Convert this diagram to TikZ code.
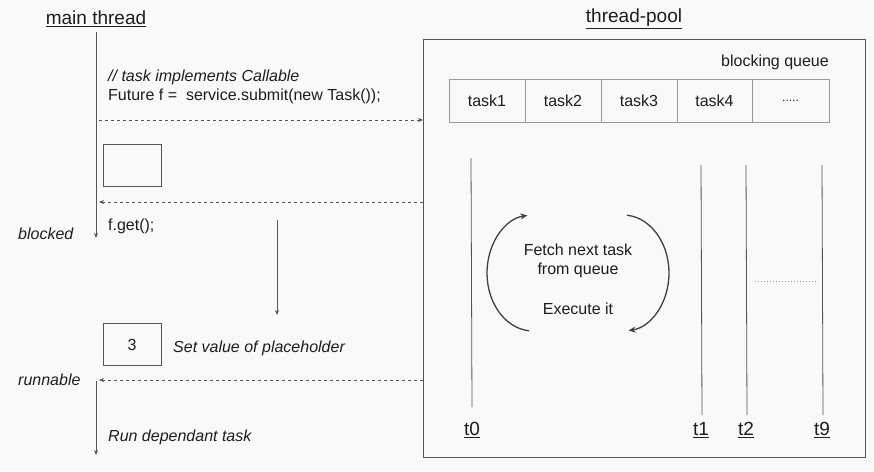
\documentclass[tikz,border=0pt]{standalone}
\usepackage{fontspec}
\setmainfont{Liberation Sans}
\usetikzlibrary{arrows.meta}
\definecolor{bg}{HTML}{F9F9F9}
\definecolor{ln}{HTML}{555555}
\definecolor{cell}{HTML}{999999}
\definecolor{tx}{HTML}{1E1E1E}
\begin{document}
\begin{tikzpicture}[x=1pt,y=1pt,
  txt/.style={text=tx, inner sep=0pt, font=\fontsize{16}{19}\selectfont},
  ttl/.style={text=tx, inner sep=0pt, font=\fontsize{19}{22}\selectfont},
  it/.style={txt, font=\fontsize{16}{19}\selectfont\itshape},
  arr/.style={draw=ln, line width=0.9pt, -{Stealth[length=5pt,width=4pt]}},
  darr/.style={draw=ln, line width=0.8pt, dash pattern=on 3pt off 3pt, -{Stealth[length=5pt,width=4pt]}},
  plain/.style={draw=ln, line width=0.8pt},
  loop/.style={draw=tx!85, line width=1.3pt, -{Stealth[length=7pt,width=6pt]}},
  qcell/.style={draw=cell, line width=0.8pt, minimum width=76pt, minimum height=43pt, inner sep=0pt, text=tx, font=\fontsize{16}{19}\selectfont},
  pbox/.style={draw=ln, line width=0.8pt, minimum width=58pt, minimum height=42pt, inner sep=0pt, text=tx, font=\fontsize{16}{19}\selectfont},
  tlbl/.style={text=tx, inner sep=0pt, font=\fontsize{19}{22}\selectfont}
]
\fill[bg] (0,0) rectangle (874,-471);
\useasboundingbox (0,0) rectangle (874,-471);

% titles
\node[ttl] (mtitle) at (96,-19) {\underline{main thread}};
\node[ttl] (ptitle) at (634,-19) {\underline{thread-pool}};

% main thread
\coordinate (m0) at (96,-32);
\coordinate (m1) at (96,-238);
\coordinate (m2) at (96,-381);
\coordinate (m3) at (96,-455);
\draw[arr] (m0) -- (m1);
\draw[arr] (m2) -- (m3);

% thread pool box
\node[draw=ln, line width=0.8pt, minimum width=442pt, minimum height=418pt, inner sep=0pt, anchor=north west] (pool) at (423,-39) {};
\node[txt, anchor=east] (bq) at (829,-62) {blocking queue};

% queue
\node[qcell] (q1) at (487,-100.5) {task1};
\node[qcell] (q2) at (563,-100.5) {task2};
\node[qcell] (q3) at (639,-100.5) {task3};
\node[qcell, minimum width=75pt] (q4) at (714.5,-100.5) {task4};
\node[qcell, minimum width=77pt] (q5) at (790.5,-100.5) {\fontsize{12}{14}\selectfont .....};

% main thread texts
\node[it, anchor=west] (cmt) at (108,-77) {// task implements Callable};
\node[txt, anchor=west] (code) at (108,-96) {Future f =\ \ service.submit(new Task());};

% submit arrow
\coordinate (s1) at (99,-120);
\draw[darr] (s1) -- (s1 -| pool.west);

% empty placeholder
\node[pbox] (ph) at (132,-165) {};

% return future
\coordinate (r1) at (99,-202);
\draw[darr] (r1 -| pool.west) -- (r1);

\node[it, anchor=west] (blk) at (18,-234) {blocked};
\node[txt, anchor=west] (fget) at (108,-226) {f.get();};

% set value arrow
\coordinate (v0) at (277,-220);
\coordinate (v1) at (277,-315);
\draw[arr] (v0) -- (v1);

\node[pbox] (ph3) at (132,-344.5) {3};
\node[it, anchor=west] (setv) at (173,-348) {Set value of placeholder};

\node[it, anchor=west] (run) at (18,-380) {runnable};
\coordinate (r2) at (99,-380);
\draw[darr] (r2 -| pool.west) -- (r2);

\node[it, anchor=west] (dep) at (108,-437) {Run dependant task};

% worker threads
\coordinate (t0a) at (471,-158);
\coordinate (t0b) at (472,-407);
\coordinate (t1a) at (701,-165);
\coordinate (t1b) at (702,-415);
\coordinate (t2a) at (746,-165);
\coordinate (t2b) at (747,-415);
\coordinate (t9a) at (822,-165);
\coordinate (t9b) at (823,-415);
\draw[plain] (t0a) -- (t0b);
\draw[plain] (t1a) -- (t1b);
\draw[plain] (t2a) -- (t2b);
\draw[plain] (t9a) -- (t9b);
\node[tlbl] (t0) at (472,-430) {\underline{t0}};
\node[tlbl] (t1) at (701,-430) {\underline{t1}};
\node[tlbl] (t2) at (746,-430) {\underline{t2}};
\node[tlbl] (t9) at (822,-430) {\underline{t9}};

\coordinate (d0) at (755,-281);
\coordinate (d1) at (817,-281);
\draw[draw=cell, line width=0.8pt, dash pattern=on 1pt off 2pt] (d0) -- (d1);

% loop
\coordinate (cl) at (533,-273);
\coordinate (cr) at (623,-273);
\draw[loop] (cl) ++(265:46 and 58) arc[start angle=265, end angle=97, x radius=46, y radius=58];
\draw[loop] (cr) ++(85:46 and 58) arc[start angle=85, end angle=-83, x radius=46, y radius=58];

\node[txt, align=center] (fetch) at (578,-261) {Fetch next task\\from queue};
\node[txt] (exec) at (578,-309) {Execute it};
\end{tikzpicture}
\end{document}
